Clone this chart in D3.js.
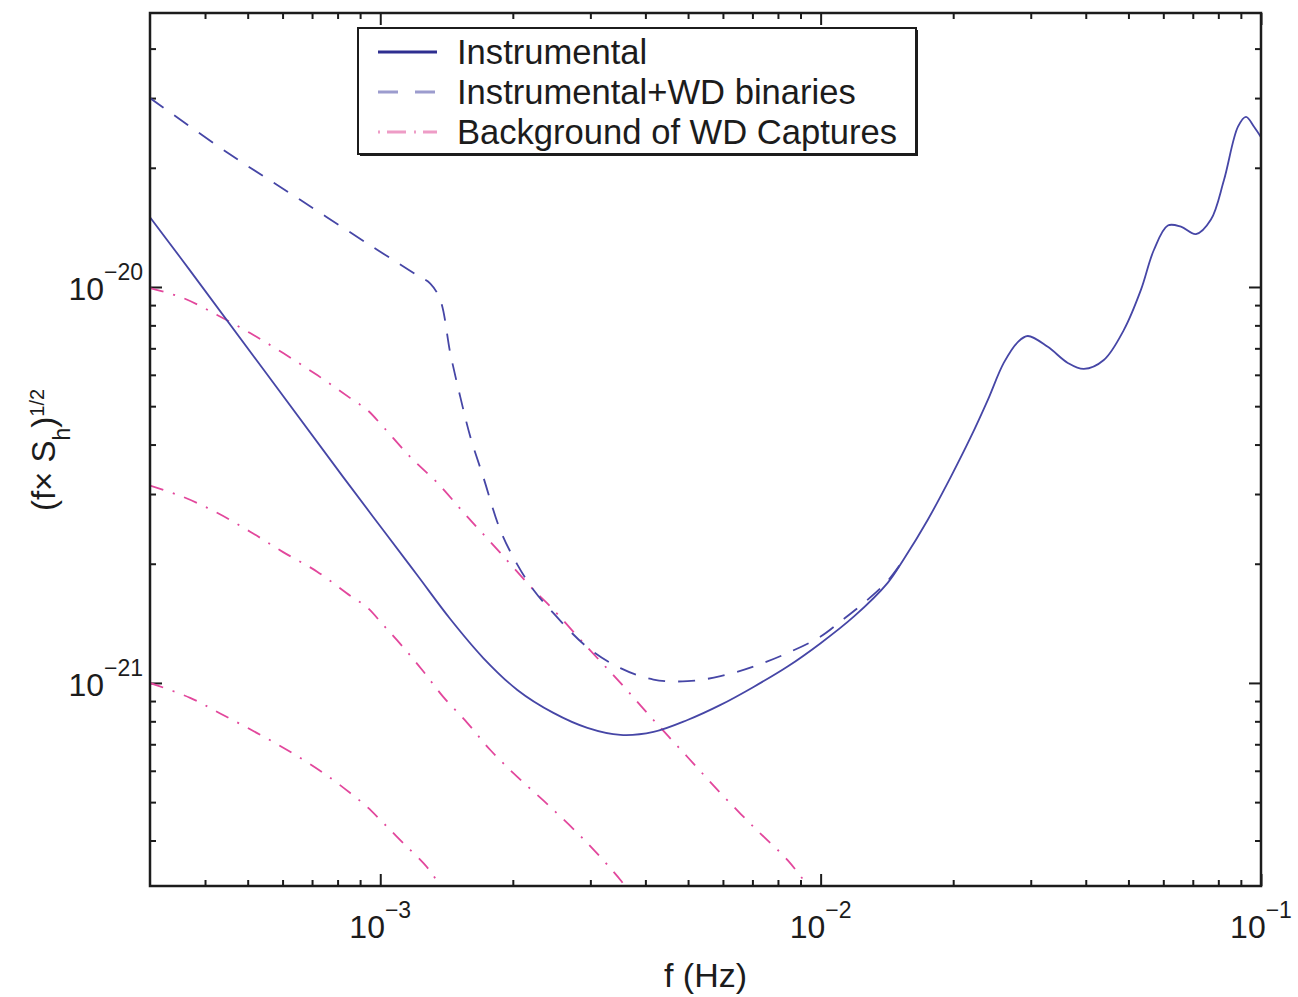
<!DOCTYPE html>
<html>
<head>
<meta charset="utf-8">
<script src="https://cdn.jsdelivr.net/npm/d3@7"></script>
<style>
  body { margin: 0; background: #fff; }
  svg { display: block; font-family: "Liberation Sans", Arial, Helvetica, sans-serif; }
</style>
</head>
<body>
<svg id="chart" width="1298" height="997"></svg>
<script>
// Instrumental noise, sqrt(f * S_h)
const instrF = [3.00e-4, 3.70e-4, 8.24e-4, 1.016e-3, 1.214e-3, 1.442e-3, 1.714e-3, 2.048e-3, 2.473e-3, 2.954e-3,
  3.511e-3, 4.173e-3, 4.985e-3, 5.925e-3, 7.042e-3, 8.414e-3, 1.0e-2, 1.189e-2, 1.420e-2, 1.543e-2,
  1.750e-2, 1.974e-2, 2.193e-2, 2.396e-2, 2.605e-2, 2.804e-2, 2.954e-2, 3.280e-2, 3.642e-2, 3.960e-2,
  4.396e-2, 4.882e-2, 5.337e-2, 5.711e-2, 6.144e-2, 6.579e-2, 7.117e-2, 7.697e-2, 8.237e-2, 8.866e-2,
  9.245e-2, 9.641e-2, 1.0e-1];
const instrH = [1.50e-20, 1.10e-20, 3.31e-21, 2.43e-21, 1.87e-21, 1.45e-21, 1.156e-21, 9.60e-22, 8.40e-22, 7.70e-22,
  7.39e-22, 7.52e-22, 8.06e-22, 8.80e-22, 9.77e-22, 1.10e-21, 1.26e-21, 1.47e-21, 1.79e-21, 2.05e-21,
  2.58e-21, 3.31e-21, 4.18e-21, 5.18e-21, 6.43e-21, 7.26e-21, 7.52e-21, 7.06e-21, 6.43e-21, 6.21e-21,
  6.54e-21, 7.79e-21, 9.83e-21, 1.24e-20, 1.43e-20, 1.42e-20, 1.36e-20, 1.48e-20, 1.86e-20, 2.54e-20,
  2.69e-20, 2.54e-20, 2.39e-20];

// Instrumental + WD binaries
const wdbF = [3.00e-4, 4.51e-4, 6.58e-4, 9.64e-4, 1.214e-3, 1.299e-3, 1.369e-3, 1.442e-3, 1.520e-3, 1.602e-3,
  1.714e-3, 1.874e-3, 2.048e-3, 2.227e-3, 2.473e-3, 2.954e-3, 3.511e-3, 4.173e-3, 4.985e-3, 5.925e-3,
  7.042e-3, 8.414e-3, 1.0e-2, 1.110e-2, 1.252e-2, 1.420e-2, 1.543e-2];
const wdbH = [3.00e-20, 2.18e-20, 1.66e-20, 1.26e-20, 1.07e-20, 1.02e-20, 9.27e-21, 6.81e-21, 5.27e-21, 4.18e-21,
  3.31e-21, 2.43e-21, 1.99e-21, 1.72e-21, 1.50e-21, 1.23e-21, 1.09e-21, 1.02e-21, 1.01e-21, 1.04e-21,
  1.10e-21, 1.19e-21, 1.31e-21, 1.43e-21, 1.59e-21, 1.81e-21, 2.05e-21];

// Background of WD captures (three levels)
const capHighF = [3.00e-4, 3.567e-4, 4.261e-4, 5.064e-4, 6.018e-4, 7.190e-4, 8.548e-4, 9.343e-4, 1.016e-3, 1.170e-3,
  1.348e-3, 1.576e-3, 1.874e-3, 2.227e-3, 2.434e-3, 2.954e-3, 3.511e-3, 4.173e-3, 4.985e-3, 5.925e-3,
  7.042e-3, 8.414e-3, 9.150e-3, 9.59e-3];
const capHighH = [9.94e-21, 9.38e-21, 8.50e-21, 7.65e-21, 6.81e-21, 5.99e-21, 5.24e-21, 4.89e-21, 4.43e-21, 3.72e-21,
  3.20e-21, 2.63e-21, 2.13e-21, 1.72e-21, 1.56e-21, 1.23e-21, 1.00e-21, 8.06e-22, 6.50e-22, 5.27e-22,
  4.33e-22, 3.57e-22, 3.18e-22, 3.02e-22];

const capMidF = [3.00e-4, 3.567e-4, 4.261e-4, 5.064e-4, 6.018e-4, 7.190e-4, 8.548e-4, 9.343e-4, 1.016e-3, 1.128e-3,
  1.252e-3, 1.390e-3, 1.576e-3, 1.778e-3, 2.048e-3, 2.434e-3, 2.954e-3, 3.511e-3, 3.624e-3];
const capMidH = [3.15e-21, 2.95e-21, 2.69e-21, 2.41e-21, 2.14e-21, 1.91e-21, 1.66e-21, 1.55e-21, 1.40e-21, 1.23e-21,
  1.07e-21, 9.22e-22, 7.93e-22, 6.77e-22, 5.79e-22, 4.86e-22, 3.94e-22, 3.18e-22, 3.03e-22];

const capLowF = [3.00e-4, 3.70e-4, 4.397e-4, 5.254e-4, 6.244e-4, 7.420e-4, 8.548e-4, 9.343e-4, 1.016e-3, 1.128e-3,
  1.252e-3, 1.319e-3, 1.369e-3];
const capLowH = [1.00e-21, 9.17e-22, 8.30e-22, 7.47e-22, 6.70e-22, 5.93e-22, 5.27e-22, 4.86e-22, 4.43e-22, 3.94e-22,
  3.51e-22, 3.27e-22, 3.03e-22];

// axes
const xDomain = [3e-4, 1e-1];
const yDomain = [3.07e-22, 4.92e-20];
const xMajorTicks = [1e-3, 1e-2, 1e-1];
const xMajorExp = ['\u22123', '\u22122', '\u22121'];
const yMajorTicks = [1e-21, 1e-20];
const yMajorExp = ['\u221221', '\u221220'];
const legendLabels = ['Instrumental', 'Instrumental+WD binaries', 'Background of WD Captures'];

(function() {
  const plotL = 150, plotR = 1261, plotT = 13, plotB = 886;
  const ink = '#1c1c1c';
  const blue = '#4646a6';
  const pink = '#e2479c';

  const svg = d3.select('#chart');
  const x = d3.scaleLog().domain(xDomain).range([plotL, plotR]);
  const y = d3.scaleLog().domain(yDomain).range([plotB, plotT]);

  const isMajor = v => Math.abs(Math.log10(v) - Math.round(Math.log10(v))) < 1e-6;
  const xMinor = x.ticks().filter(v => !isMajor(v) && v > xDomain[0] * 1.001);
  const yMinor = y.ticks().filter(v => !isMajor(v));

  function drawTicks(axisFn, scale, values, size, transform) {
    const g = svg.append('g')
      .attr('transform', transform)
      .call(axisFn(scale).tickValues(values).tickSizeInner(-size).tickSizeOuter(0).tickFormat(''));
    g.select('.domain').remove();
    g.selectAll('line').attr('stroke', ink).attr('stroke-width', 2);
  }

  [[d3.axisBottom, `translate(0,${plotB})`], [d3.axisTop, `translate(0,${plotT})`]].forEach(([fn, t]) => {
    drawTicks(fn, x, xMinor, 6, t);
    drawTicks(fn, x, xMajorTicks, 12, t);
  });
  [[d3.axisLeft, `translate(${plotL},0)`], [d3.axisRight, `translate(${plotR},0)`]].forEach(([fn, t]) => {
    drawTicks(fn, y, yMinor, 6, t);
    drawTicks(fn, y, yMajorTicks, 12, t);
  });

  // curves
  svg.append('clipPath').attr('id', 'plot-clip')
    .append('rect').attr('x', plotL).attr('y', plotT).attr('width', plotR - plotL).attr('height', plotB - plotT);

  const line = d3.line()
    .x(d => x(d[0]))
    .y(d => y(d[1]))
    .curve(d3.curveCatmullRom.alpha(0.5));

  const curves = svg.append('g').attr('clip-path', 'url(#plot-clip)').attr('fill', 'none');

  [[capHighF, capHighH], [capMidF, capMidH], [capLowF, capLowH]].forEach(([f, h]) => {
    curves.append('path')
      .attr('d', line(d3.zip(f, h)))
      .attr('stroke', pink)
      .attr('stroke-width', 1.8)
      .attr('stroke-dasharray', '14,10,2,10');
  });

  curves.append('path')
    .attr('d', line(d3.zip(wdbF, wdbH)))
    .attr('stroke', blue)
    .attr('stroke-width', 1.8)
    .attr('stroke-dasharray', '17,13');

  curves.append('path')
    .attr('d', line(d3.zip(instrF, instrH)))
    .attr('stroke', blue)
    .attr('stroke-width', 1.8);

  // frame
  svg.append('rect')
    .attr('x', plotL).attr('y', plotT)
    .attr('width', plotR - plotL).attr('height', plotB - plotT)
    .attr('fill', 'none').attr('stroke', ink).attr('stroke-width', 2.5);

  // tick labels
  xMajorTicks.forEach((v, i) => {
    const t = svg.append('text')
      .attr('x', x(v)).attr('y', 938)
      .attr('text-anchor', 'middle').attr('fill', ink);
    t.append('tspan').attr('font-size', 32).text('10');
    t.append('tspan').attr('font-size', 23).attr('dy', -20).text(xMajorExp[i]);
  });

  yMajorTicks.forEach((v, i) => {
    const t = svg.append('text')
      .attr('x', 143).attr('y', y(v) + 13)
      .attr('text-anchor', 'end').attr('fill', ink);
    t.append('tspan').attr('font-size', 32).text('10');
    t.append('tspan').attr('font-size', 23).attr('dy', -20).text(yMajorExp[i]);
  });

  // axis titles
  svg.append('text')
    .attr('x', (plotL + plotR) / 2).attr('y', 987)
    .attr('text-anchor', 'middle').attr('font-size', 34).attr('fill', ink)
    .text('f (Hz)');

  const yt = svg.append('text')
    .attr('transform', 'translate(55,450) rotate(-90)')
    .attr('text-anchor', 'middle').attr('fill', ink);
  yt.append('tspan').attr('font-size', 33).text('(f\u00d7 S');
  yt.append('tspan').attr('font-size', 23).attr('dy', 15).text('h');
  yt.append('tspan').attr('font-size', 33).attr('dy', -15).text(')');
  yt.append('tspan').attr('font-size', 20).attr('dy', -11).text('1/2');

  // legend (box with a slight drop shadow on bottom/right)
  const lg = svg.append('g');
  lg.append('rect')
    .attr('x', 360).attr('y', 30).attr('width', 558).attr('height', 126)
    .attr('fill', ink);
  lg.append('rect')
    .attr('x', 358).attr('y', 28).attr('width', 558).attr('height', 126)
    .attr('fill', '#fff').attr('stroke', ink).attr('stroke-width', 2);

  const legendStyles = [
    { color: '#2e2e90', dash: null },
    { color: '#9c9cce', dash: '20,17' },
    { color: '#ee9cc6', dash: '2,7,19,8' }
  ];

  legendLabels.forEach((label, i) => {
    const cy = 52 + i * 40;
    lg.append('line')
      .attr('x1', 378).attr('x2', 437).attr('y1', cy).attr('y2', cy)
      .attr('stroke', legendStyles[i].color).attr('stroke-width', 3)
      .attr('stroke-dasharray', legendStyles[i].dash);
    lg.append('text')
      .attr('x', 457).attr('y', cy + 12)
      .attr('font-size', 34.6).attr('fill', ink)
      .text(label);
  });
})();
</script>
</body>
</html>
